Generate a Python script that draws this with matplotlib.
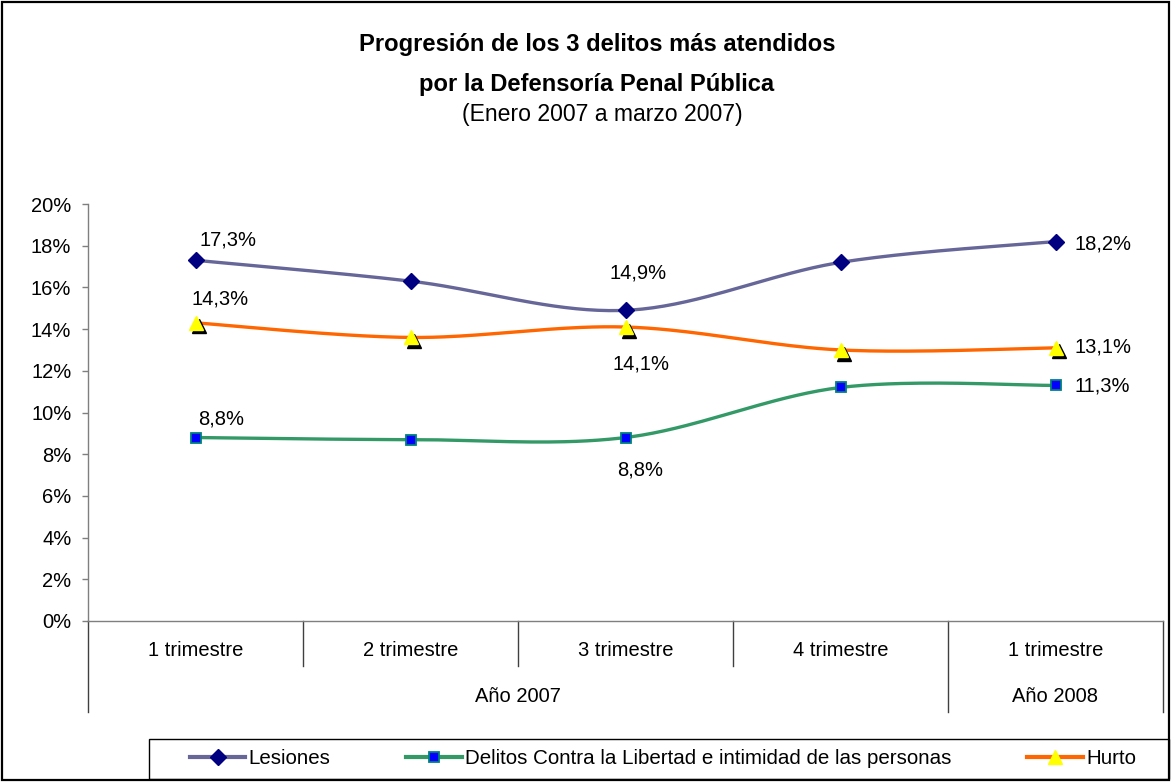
import numpy as np
import matplotlib
matplotlib.use('Agg')
import matplotlib.pyplot as plt
from matplotlib.lines import Line2D
from matplotlib.patches import Rectangle
import matplotlib.transforms as mtransforms

# ---------------- data ----------------
categories = ['1 trimestre', '2 trimestre', '3 trimestre', '4 trimestre', '1 trimestre']
years = ['Año 2007', 'Año 2008']
year_spans = [4, 1]
lesiones = [17.3, 16.3, 14.9, 17.2, 18.2]
delitos = [8.8, 8.7, 8.8, 11.2, 11.3]
hurto = [14.3, 13.6, 14.1, 13.0, 13.1]
series_names = ['Lesiones', 'Delitos Contra la Libertad e intimidad de las personas', 'Hurto']
yticks = [0, 2, 4, 6, 8, 10, 12, 14, 16, 18, 20]
title_lines = ['Progresión de los 3 delitos más atendidos',
               'por la Defensoría Penal Pública',
               '(Enero 2007 a marzo 2007)']

# ---------------- style ----------------
plt.rcParams['font.family'] = ['Liberation Sans', 'DejaVu Sans']
W, H = 1171, 782
fig = plt.figure(figsize=(W / 100, H / 100), dpi=100)
fig.patch.set_facecolor('white')

x0, x1, y0, y1 = 88, 1163, 204, 621
ax = fig.add_axes([x0 / W, 1 - y1 / H, (x1 - x0) / W, (y1 - y0) / H])
ax.set_facecolor('white')

n = len(categories)
xs = np.arange(n) + 0.5


def smooth(x, y, steps=40):
    P = np.column_stack([x, y]).astype(float)
    E = np.vstack([P[0], P, P[-1]])
    out = [P[0]]
    t = np.linspace(0, 1, steps)[1:, None]
    for i in range(len(P) - 1):
        p0, p3 = P[i], P[i + 1]
        c1 = p0 + (E[i + 2] - E[i]) / 6.0
        c2 = p3 - (E[i + 3] - E[i + 1]) / 6.0
        seg = ((1 - t) ** 3) * p0 + 3 * ((1 - t) ** 2) * t * c1 + 3 * (1 - t) * t ** 2 * c2 + t ** 3 * p3
        out.extend(seg)
    out = np.array(out)
    return out[:, 0], out[:, 1]


line_cols = ['#666699', '#339966', '#FF6600']
lw = 2.4

# Lesiones
sx, sy = smooth(xs, lesiones)
ax.plot(sx, sy, color=line_cols[0], lw=lw, zorder=3, solid_capstyle='round')
ax.plot(xs, lesiones, ls='none', marker='D', ms=8.5, mfc='#000080', mec='#000080', zorder=5)

# Delitos
sx, sy = smooth(xs, delitos)
ax.plot(sx, sy, color=line_cols[1], lw=lw, zorder=3, solid_capstyle='round')
ax.plot(xs, delitos, ls='none', marker='s', ms=7.5, mfc='#0000FF', mec='#008080', mew=1.3, zorder=5)

# Hurto
sx, sy = smooth(xs, hurto)
ax.plot(sx, sy, color=line_cols[2], lw=lw, zorder=3, solid_capstyle='round')
shadow = mtransforms.offset_copy(ax.transData, fig=fig, x=2.2, y=-2.6, units='points')
ax.plot(xs, hurto, ls='none', marker='^', ms=10, mfc='black', mec='black', zorder=4, transform=shadow)
ax.plot(xs, hurto, ls='none', marker='^', ms=10, mfc='#FFFF00', mec='#FFFF00', zorder=5)

ax.set_xlim(0, n)
ax.set_ylim(0, 20)

# data labels: (series, point index, dx px, dy px)
series_vals = [lesiones, delitos, hurto]
label_specs = [(0, 0, 4, 20), (0, 2, -16, 37), (0, 4, 19, -2),
               (2, 0, -4, 24), (2, 2, -13, -37), (2, 4, 19, 1),
               (1, 0, 3, 19), (1, 2, -8, -32), (1, 4, 19, -1)]
for s, i, dx, dy in label_specs:
    v = series_vals[s][i]
    txt = f'{v:.1f}'.replace('.', ',') + '%'
    ax.annotate(txt, (xs[i], v), xytext=(dx * 0.72, dy * 0.72), textcoords='offset points',
                ha='left', va='center', fontsize=14.5, color='black', zorder=6)

# axes styling
axis_col = '#7f7f7f'
for sp in ['top', 'right']:
    ax.spines[sp].set_visible(False)
ax.spines['left'].set_color(axis_col)
ax.spines['bottom'].set_color(axis_col)
ax.spines['left'].set_linewidth(1.0)
ax.spines['bottom'].set_linewidth(1.0)
ax.set_yticks(yticks)
ax.set_yticklabels([f'{v}%' for v in yticks], fontsize=14.5)
ax.tick_params(axis='y', direction='out', length=4, width=1, color=axis_col, pad=8)
ax.set_xticks([])

# category axis (two levels)
trans = ax.get_xaxis_transform()
ph = y1 - y0
lvl1_y = -29 / ph
lvl2_y = -75 / ph
sep1 = -45 / ph
sep2 = -91 / ph
sep_col = '#404040'
for i, c in enumerate(categories):
    ax.text(xs[i], lvl1_y, c, transform=trans, ha='center', va='center', fontsize=14.5)
bounds = np.cumsum([0] + year_spans)
for b in range(n + 1):
    depth = sep2 if b in bounds else sep1
    ax.plot([b, b], [0, depth], transform=trans, color=sep_col, lw=1, clip_on=False)
for k, yname in enumerate(years):
    cx = (bounds[k] + bounds[k + 1]) / 2
    ax.text(cx, lvl2_y, yname, transform=trans, ha='center', va='center', fontsize=14.5)

# title
fig.text(597 / W, 1 - 44 / H, title_lines[0], ha='center', va='center', fontsize=17.1, fontweight='bold')
fig.text(597 / W, 1 - 84 / H, title_lines[1], ha='center', va='center', fontsize=17.1, fontweight='bold')
fig.text(602 / W, 1 - 115 / H, title_lines[2], ha='center', va='center', fontsize=16.6)

# legend
handles = [
    Line2D([], [], color=line_cols[0], lw=lw + 0.6, marker='D', ms=8, mfc='#000080', mec='#000080'),
    Line2D([], [], color=line_cols[1], lw=lw + 0.6, marker='s', ms=7.5, mfc='#0000FF', mec='#008080', mew=1.3),
    Line2D([], [], color=line_cols[2], lw=lw + 0.6, marker='^', ms=10, mfc='#FFFF00', mec='#FFFF00'),
]
leg = fig.legend(handles, series_names, loc='center', bbox_to_anchor=(663 / W, 1 - 759 / H),
                 bbox_transform=fig.transFigure, ncol=3, frameon=False, fontsize=14.8,
                 handlelength=2.7, handletextpad=0.15, columnspacing=3.7, borderpad=0)
fig.add_artist(Rectangle((149 / W, 1 - 779 / H), (1169 - 149) / W, (779 - 739) / H,
                         transform=fig.transFigure, fill=False, ec='black', lw=1.0))

# outer border
fig.add_artist(Rectangle((2 / W, 2 / H), (W - 4) / W, (H - 4) / H, transform=fig.transFigure,
                         fill=False, ec='black', lw=1.6))

fig.savefig('out.png', dpi=100, facecolor='white')
